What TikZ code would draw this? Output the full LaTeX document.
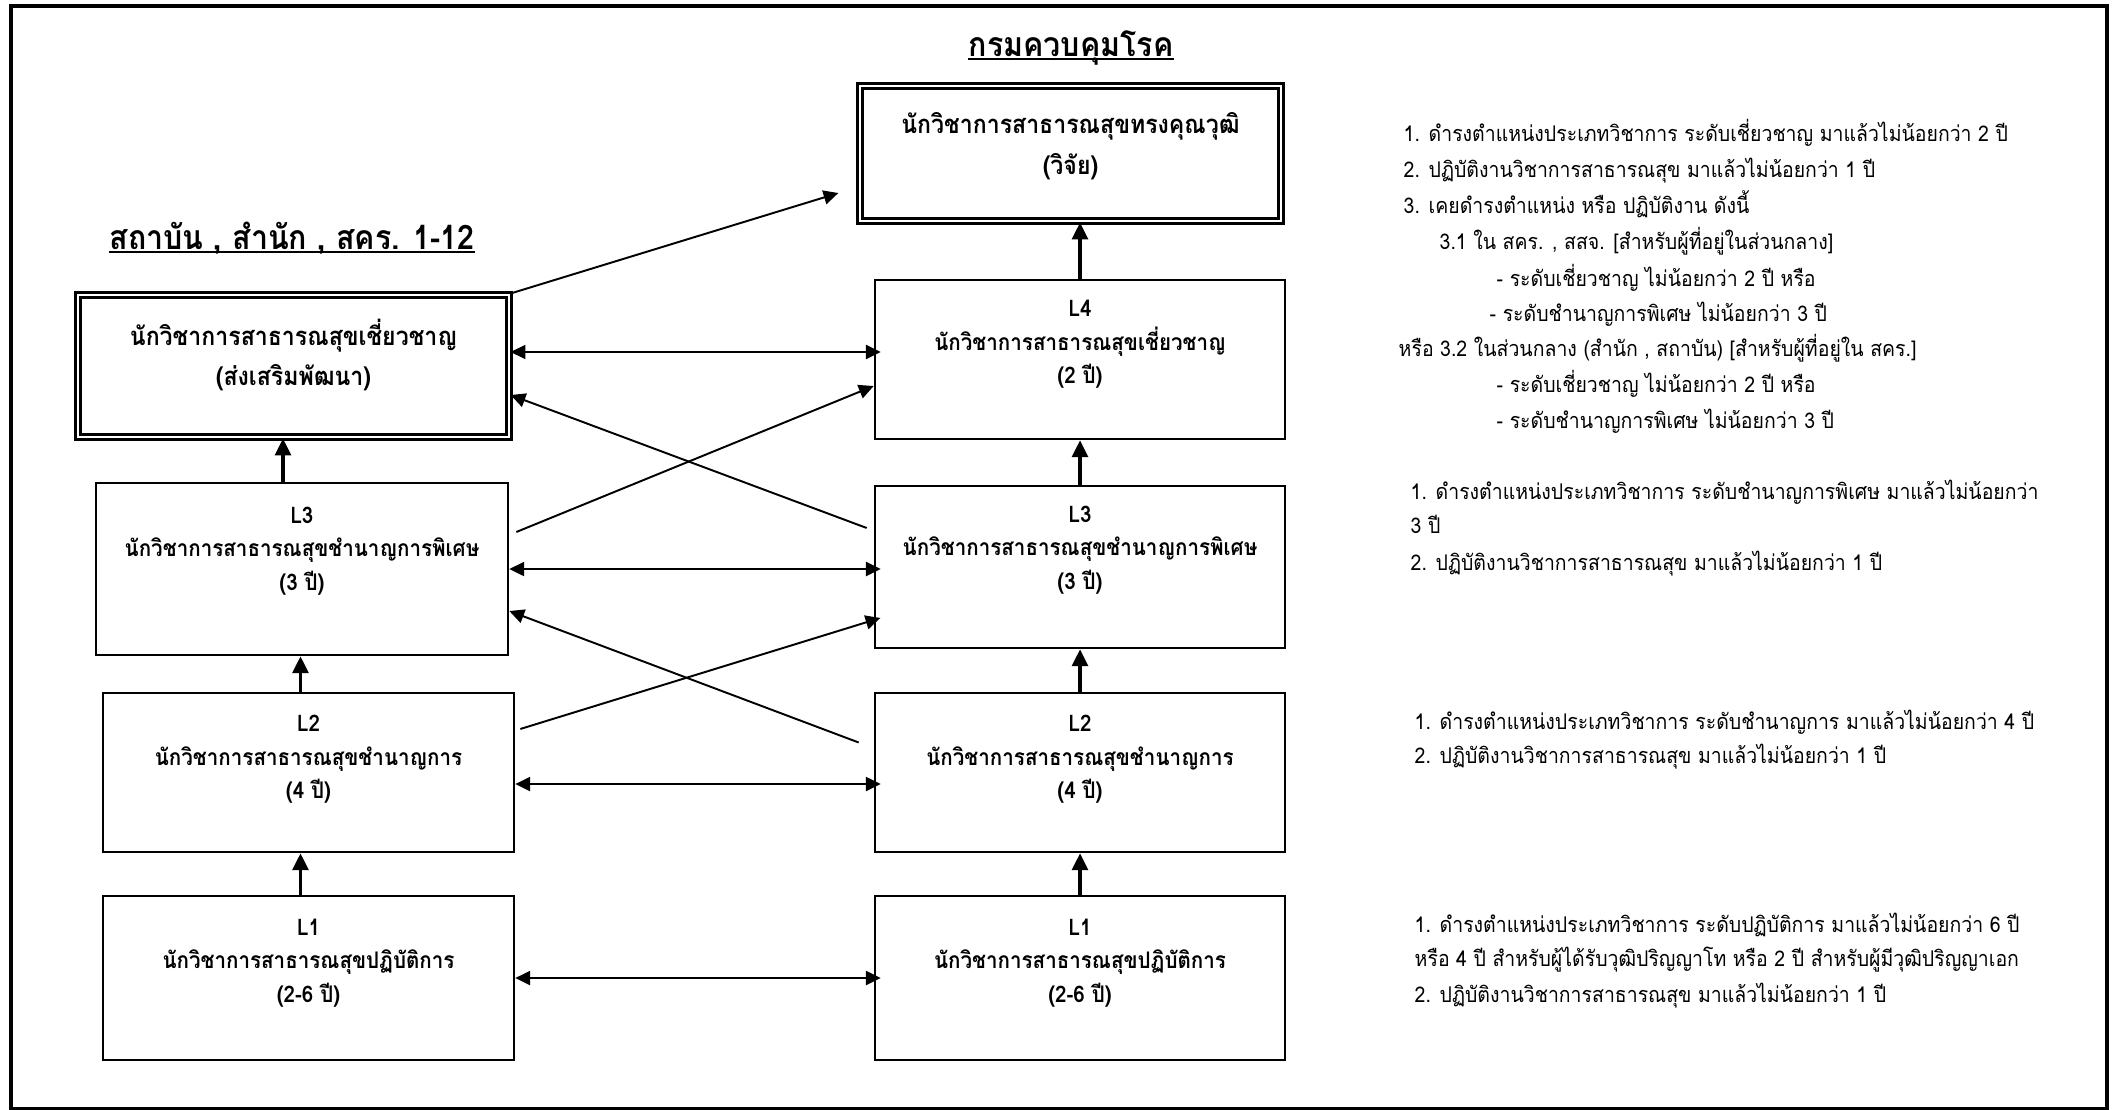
\documentclass[tikz,border=0pt]{standalone}
\usepackage{fontspec}
\setmainfont[Script=Thai, FakeStretch=0.9]{Loma}
\usetikzlibrary{arrows.meta}

\tikzset{
  lvbox/.style={draw, line width=0.7pt, minimum width=4.1cm, inner sep=0pt},
  dblbox/.style={draw, double, line width=0.85pt, double distance=0.6pt, inner sep=0pt},
  boxtxt/.style={align=center, font=\bfseries\fontsize{6.5}{9.5}\selectfont, inner sep=0pt},
  dbltxt/.style={align=center, font=\bfseries\fontsize{7.3}{11.5}\selectfont, inner sep=0pt},
  head/.style={anchor=base, font=\bfseries\fontsize{9.6}{12}\selectfont, inner sep=0pt},
  note/.style={anchor=base west, font=\fontsize{6.15}{9}\selectfont, inner sep=0pt},
  arr/.style={-{Triangle[length=4.2pt,width=4pt]}, line width=0.55pt},
  biarr/.style={{Triangle[length=4.2pt,width=4pt]}-{Triangle[length=4.2pt,width=4pt]}, line width=0.55pt, shorten >=-2pt},
  uparr/.style={-{Triangle[length=4.8pt,width=4.5pt]}, line width=1pt}
}

\begin{document}
\begin{tikzpicture}[x=0.01cm, y=-0.01cm]
\useasboundingbox (0,0) rectangle (2116,1109);
\draw[line width=0.9pt] (11,6) rectangle (2107,1108.5);

\node[head] (dept) at (1071,56) {กรมควบคุมโรค};
\draw[line width=0.6pt] ([yshift=-0.85pt]dept.base west) -- ([yshift=-0.85pt]dept.base east);
\node[head] (inst) at (292,249) {สถาบัน , สำนัก , สคร. 1-12};
\draw[line width=0.6pt] ([yshift=-0.85pt]inst.base west) -- ([yshift=-0.85pt]inst.base east);

\node[dblbox, minimum width=4.21cm, minimum height=1.35cm] (top) at (1070.5,153.5) {};
\node[dblbox, minimum width=4.31cm, minimum height=1.42cm] (lt) at (293.5,366) {};
\node[lvbox, minimum height=1.59cm] (l4b) at (1080,359.5) {};
\node[lvbox, minimum height=1.62cm] (l3b) at (1080,567) {};
\node[lvbox, minimum height=1.59cm] (l2b) at (1080,772.5) {};
\node[lvbox, minimum height=1.64cm] (l1b) at (1080,978) {};
\node[lvbox, minimum width=4.12cm, minimum height=1.72cm] (l3a) at (302,569) {};
\node[lvbox, minimum width=4.11cm, minimum height=1.59cm] (l2a) at (308.5,772.5) {};
\node[lvbox, minimum width=4.11cm, minimum height=1.64cm] (l1a) at (308.5,978) {};

\node[dbltxt] (topt) at ([yshift=0.075cm]top.center) {นักวิชาการสาธารณสุขทรงคุณวุฒิ\\(วิจัย)};
\node[dbltxt] (ltt) at ([yshift=0.11cm]lt.center) {นักวิชาการสาธารณสุขเชี่ยวชาญ\\(ส่งเสริมพัฒนา)};
\node[boxtxt] (l4bt) at ([yshift=0.15cm]l4b.center) {L4\\นักวิชาการสาธารณสุขเชี่ยวชาญ\\(2 ปี)};
\node[boxtxt] (l3bt) at ([yshift=0.17cm]l3b.center) {L3\\นักวิชาการสาธารณสุขชำนาญการพิเศษ\\(3 ปี)};
\node[boxtxt] (l2bt) at ([yshift=0.13cm]l2b.center) {L2\\นักวิชาการสาธารณสุขชำนาญการ\\(4 ปี)};
\node[boxtxt] (l1bt) at ([yshift=0.15cm]l1b.center) {L1\\นักวิชาการสาธารณสุขปฏิบัติการ\\(2-6 ปี)};
\node[boxtxt] (l3at) at ([yshift=0.18cm]l3a.center) {L3\\นักวิชาการสาธารณสุขชำนาญการพิเศษ\\(3 ปี)};
\node[boxtxt] (l2at) at ([yshift=0.13cm]l2a.center) {L2\\นักวิชาการสาธารณสุขชำนาญการ\\(4 ปี)};
\node[boxtxt] (l1at) at ([yshift=0.15cm]l1a.center) {L1\\นักวิชาการสาธารณสุขปฏิบัติการ\\(2-6 ปี)};

\draw[uparr] (l4b.north) -- (l4b.north |- top.south);
\draw[uparr] (l3b.north) -- (l3b.north |- l4b.south);
\draw[uparr] (l2b.north) -- (l2b.north |- l3b.south);
\draw[uparr] (l1b.north) -- (l1b.north |- l2b.south);
\draw[uparr] ([xshift=-0.19cm]l3a.north) -- ([xshift=-0.19cm]l3a.north |- lt.south);
\draw[uparr] ([xshift=-0.08cm]l2a.north) -- ([xshift=-0.08cm]l2a.north |- l3a.south);
\draw[uparr] ([xshift=-0.08cm]l1a.north) -- ([xshift=-0.08cm]l1a.north |- l2a.south);

\draw[biarr] ([yshift=0.14cm]lt.east) -- ([yshift=0.14cm]lt.east -| l4b.west);
\draw[biarr] (l3a.east) -- (l3a.east -| l3b.west);
\draw[biarr] ([yshift=-0.115cm]l2a.east) -- ([yshift=-0.115cm]l2a.east -| l2b.west);
\draw[biarr] (l1a.east) -- (l1a.east -| l1b.west);

\draw[arr] (lt.north east) -- ([xshift=-0.2cm,yshift=-0.395cm]top.west);
\draw[arr] ([xshift=-0.07cm,yshift=0.39cm]l3b.west) -- ([yshift=-0.29cm]lt.east);
\draw[arr] ([xshift=0.07cm,yshift=0.37cm]l3a.east) -- ([yshift=-0.265cm]l4b.west);
\draw[arr, shorten >=-2pt] ([xshift=0.05cm,yshift=0.435cm]l2a.east) -- ([yshift=-0.53cm]l3b.west);
\draw[arr] ([xshift=-0.15cm,yshift=0.3cm]l2b.west) -- ([yshift=-0.42cm]l3a.east);

\node[note] (q1a) at (1403,141) {1. ดำรงตำแหน่งประเภทวิชาการ ระดับเชี่ยวชาญ มาแล้วไม่น้อยกว่า 2 ปี};
\node[note] (q1b) at (1403,177.5) {2. ปฏิบัติงานวิชาการสาธารณสุข มาแล้วไม่น้อยกว่า 1 ปี};
\node[note] (q1c) at (1403,213) {3. เคยดำรงตำแหน่ง หรือ ปฏิบัติงาน ดังนี้};
\node[note] (q1d) at (1439,249.5) {3.1 ใน สคร. , สสจ. [สำหรับผู้ที่อยู่ในส่วนกลาง]};
\node[note] (q1e) at (1496,286) {- ระดับเชี่ยวชาญ ไม่น้อยกว่า 2 ปี หรือ};
\node[note] (q1f) at (1489,321.5) {- ระดับชำนาญการพิเศษ ไม่น้อยกว่า 3 ปี};
\node[note] (q1g) at (1398,356) {หรือ 3.2 ในส่วนกลาง (สำนัก , สถาบัน) [สำหรับผู้ที่อยู่ใน สคร.]};
\node[note] (q1h) at (1496,392) {- ระดับเชี่ยวชาญ ไม่น้อยกว่า 2 ปี หรือ};
\node[note] (q1i) at (1496,428) {- ระดับชำนาญการพิเศษ ไม่น้อยกว่า 3 ปี};

\node[note] (q2a) at (1410,499) {1. ดำรงตำแหน่งประเภทวิชาการ ระดับชำนาญการพิเศษ มาแล้วไม่น้อยกว่า};
\node[note] (q2b) at (1410,533) {3 ปี};
\node[note] (q2c) at (1410,570) {2. ปฏิบัติงานวิชาการสาธารณสุข มาแล้วไม่น้อยกว่า 1 ปี};

\node[note] (q3a) at (1414,729) {1. ดำรงตำแหน่งประเภทวิชาการ ระดับชำนาญการ มาแล้วไม่น้อยกว่า 4 ปี};
\node[note] (q3b) at (1414,763) {2. ปฏิบัติงานวิชาการสาธารณสุข มาแล้วไม่น้อยกว่า 1 ปี};

\node[note] (q4a) at (1414,932) {1. ดำรงตำแหน่งประเภทวิชาการ ระดับปฏิบัติการ มาแล้วไม่น้อยกว่า 6 ปี};
\node[note] (q4b) at (1414,966) {หรือ 4 ปี สำหรับผู้ได้รับวุฒิปริญญาโท หรือ 2 ปี สำหรับผู้มีวุฒิปริญญาเอก};
\node[note] (q4c) at (1414,1002) {2. ปฏิบัติงานวิชาการสาธารณสุข มาแล้วไม่น้อยกว่า 1 ปี};
\end{tikzpicture}
\end{document}
